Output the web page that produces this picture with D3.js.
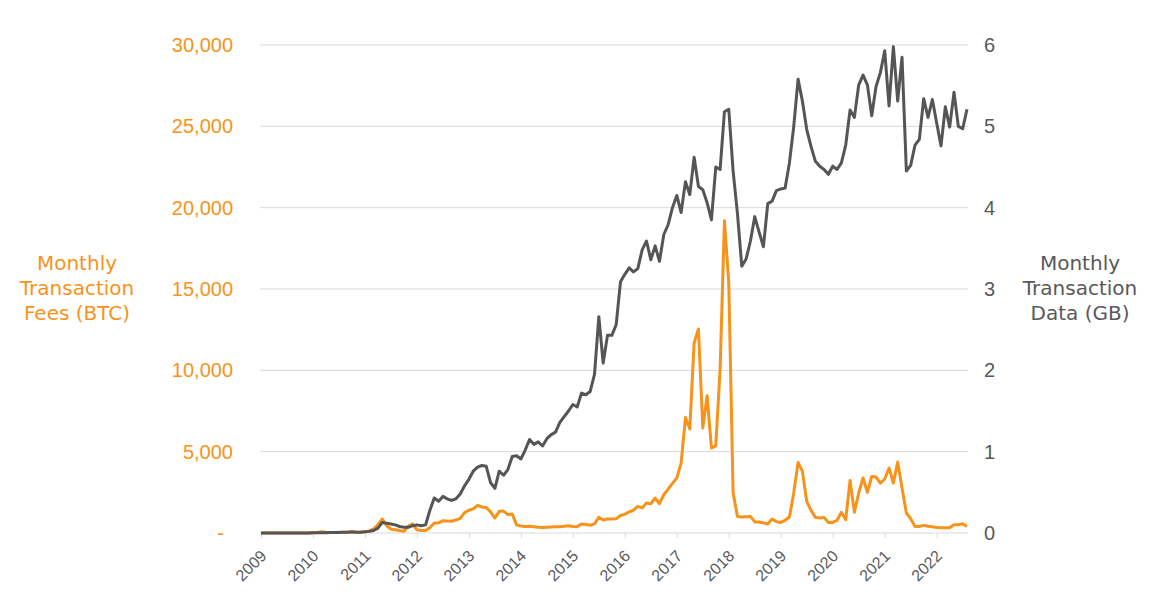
<!DOCTYPE html>
<html>
<head>
<meta charset="utf-8">
<script src="https://cdn.jsdelivr.net/npm/d3@7"></script>
<style>
  body { margin: 0; background: #fff; }
  svg { font-family: "DejaVu Sans", sans-serif; }
</style>
</head>
<body>
<svg id="chart" width="1149" height="610"></svg>
<script>
// monthly points, Jan 2009 .. Aug 2022 (index 0 = 2009-01)
var startYear = 2009;
var yearTicks = [2009, 2010, 2011, 2012, 2013, 2014, 2015, 2016, 2017, 2018, 2019, 2020, 2021, 2022];

// Monthly transaction fees (BTC)
var feesBTC = [
  0, 0, 0, 0, 0, 0, 0, 0, 0, 0, 0, 0,
  20, 30, 80, 40, 30, 30, 40, 40, 50, 60, 50, 60,
  80, 120, 250, 500, 860, 450, 250, 200, 150, 100, 420, 560,
  200, 160, 160, 320, 620, 620, 760, 740, 720, 800, 900, 1250,
  1400, 1480, 1700, 1600, 1570, 1300, 920, 1330, 1350, 1130, 1170, 500,
  430, 400, 410, 380, 350, 340, 360, 370, 380, 390, 410, 450,
  400, 390, 550, 520, 480, 560, 960, 800, 860, 860, 880, 1080,
  1150, 1300, 1400, 1640, 1540, 1840, 1800, 2150, 1800, 2350, 2700, 3050,
  3380, 4300, 7100, 6390, 11680, 12540, 6450, 8440, 5220, 5370, 10080, 19200,
  15370, 2460, 1020, 980, 1000, 1020, 680, 680, 620, 550, 860, 700,
  650, 780, 980, 2460, 4340, 3790, 1940, 1390, 960, 920, 960, 650,
  650, 780, 1270, 820, 3230, 1270, 2460, 3380, 2500, 3480, 3440, 3070,
  3320, 4000, 3070, 4360, 2770, 1230, 880, 400, 400, 470, 420, 380,
  340, 320, 320, 320, 510, 500, 570, 400
];

// Monthly transaction data (GB)
var dataGB = [
  0, 0, 0, 0, 0, 0, 0, 0, 0, 0, 0, 0,
  0.002, 0.003, 0.004, 0.004, 0.005, 0.006, 0.007, 0.008, 0.01, 0.015, 0.01, 0.01,
  0.015, 0.02, 0.03, 0.06, 0.13, 0.12, 0.11, 0.10, 0.08, 0.07, 0.07, 0.09,
  0.10, 0.09, 0.10, 0.28, 0.43, 0.39, 0.45, 0.42, 0.40, 0.42, 0.48, 0.58,
  0.66, 0.76, 0.81, 0.83, 0.82, 0.62, 0.55, 0.76, 0.71, 0.78, 0.94, 0.95,
  0.91, 1.02, 1.15, 1.09, 1.12, 1.07, 1.16, 1.21, 1.24, 1.36, 1.43, 1.50,
  1.58, 1.55, 1.72, 1.70, 1.74, 1.95, 2.66, 2.09, 2.43, 2.43, 2.56, 3.09,
  3.18, 3.26, 3.21, 3.25, 3.48, 3.59, 3.36, 3.53, 3.34, 3.67, 3.79, 4.00,
  4.15, 3.94, 4.32, 4.16, 4.62, 4.26, 4.22, 4.06, 3.85, 4.50, 4.47, 5.18,
  5.21, 4.45, 3.93, 3.28, 3.37, 3.59, 3.89, 3.70, 3.52, 4.05, 4.08, 4.21,
  4.23, 4.24, 4.55, 5.00, 5.58, 5.31, 4.96, 4.75, 4.57, 4.51, 4.47, 4.41,
  4.51, 4.47, 4.55, 4.77, 5.20, 5.11, 5.51, 5.63, 5.51, 5.13, 5.49, 5.66,
  5.93, 5.25, 5.98, 5.31, 5.85, 4.45, 4.52, 4.77, 4.84, 5.34, 5.11, 5.33,
  5.04, 4.76, 5.24, 4.99, 5.42, 5.00, 4.97, 5.21
];

var feeTicks = [0, 5000, 10000, 15000, 20000, 25000, 30000];
var gbTicks = [0, 1, 2, 3, 4, 5, 6];
var leftTitle = ["Monthly", "Transaction", "Fees (BTC)"];
var rightTitle = ["Monthly", "Transaction", "Data (GB)"];

var ORANGE = "#F7931A";
var GREY = "#555555";
var TEXTGREY = "#595959";

var svg = d3.select("#chart");

var x = d3.scaleLinear().domain([0, feesBTC.length - 1]).range([261, 967]);
var yL = d3.scaleLinear().domain([0, 30000]).range([533, 45]);
var yR = d3.scaleLinear().domain([0, 6]).range([533, 45]);

// gridlines
svg.append("g").selectAll("line")
  .data(gbTicks.slice(1))
  .enter().append("line")
  .attr("x1", 260).attr("x2", 968)
  .attr("y1", function(d) { return yR(d); })
  .attr("y2", function(d) { return yR(d); })
  .attr("stroke", "#d9d9d9").attr("stroke-width", 1);

// x axis
var xAxis = d3.axisBottom(x)
  .tickValues(yearTicks.map(function(y) { return (y - startYear) * 12; }))
  .tickSize(5)
  .tickFormat(function(d) { return startYear + d / 12; });

var gx = svg.append("g").attr("transform", "translate(0,533)").call(xAxis);
gx.select(".domain").attr("stroke", "#d9d9d9").attr("d", "M260,0H968");
gx.selectAll(".tick line").attr("stroke", "#d9d9d9");
gx.selectAll(".tick text")
  .attr("fill", TEXTGREY)
  .attr("font-size", 16)
  .attr("text-anchor", "end")
  .attr("transform", "translate(2,20) rotate(-45)")
  .attr("x", 0).attr("y", 0).attr("dy", "0.35em");

// left axis
var leftAxis = d3.axisLeft(yL)
  .tickValues(feeTicks)
  .tickSize(0)
  .tickPadding(27)
  .tickFormat(function(d) { return d === 0 ? "-" : d3.format(",")(d); });
var gl = svg.append("g").attr("transform", "translate(260,0)").call(leftAxis);
gl.select(".domain").remove();
gl.selectAll(".tick text").attr("fill", ORANGE).attr("font-size", 20);
gl.selectAll(".tick text").filter(function(d) { return d === 0; }).attr("x", -36);

// right axis
var rightAxis = d3.axisRight(yR)
  .tickValues(gbTicks)
  .tickSize(0)
  .tickPadding(16)
  .tickFormat(d3.format("d"));
var gr = svg.append("g").attr("transform", "translate(968,0)").call(rightAxis);
gr.select(".domain").remove();
gr.selectAll(".tick text").attr("fill", TEXTGREY).attr("font-size", 20);

// lines
var feeLine = d3.line()
  .x(function(d, i) { return x(i); })
  .y(function(d) { return yL(d); });
var gbLine = d3.line()
  .x(function(d, i) { return x(i); })
  .y(function(d) { return yR(d); });

svg.append("path").datum(feesBTC)
  .attr("d", feeLine)
  .attr("fill", "none").attr("stroke", ORANGE)
  .attr("stroke-width", 3).attr("stroke-linejoin", "round");

svg.append("path").datum(dataGB)
  .attr("d", gbLine)
  .attr("fill", "none").attr("stroke", GREY)
  .attr("stroke-width", 3).attr("stroke-linejoin", "round");

// axis titles
svg.append("text")
  .attr("text-anchor", "middle").attr("fill", ORANGE).attr("font-size", 20)
  .selectAll("tspan").data(leftTitle).enter().append("tspan")
  .attr("x", 77).attr("y", function(d, i) { return 270 + i * 25; })
  .text(function(d) { return d; });

svg.append("text")
  .attr("text-anchor", "middle").attr("fill", TEXTGREY).attr("font-size", 20)
  .selectAll("tspan").data(rightTitle).enter().append("tspan")
  .attr("x", 1080).attr("y", function(d, i) { return 270 + i * 25; })
  .text(function(d) { return d; });
</script>
</body>
</html>
